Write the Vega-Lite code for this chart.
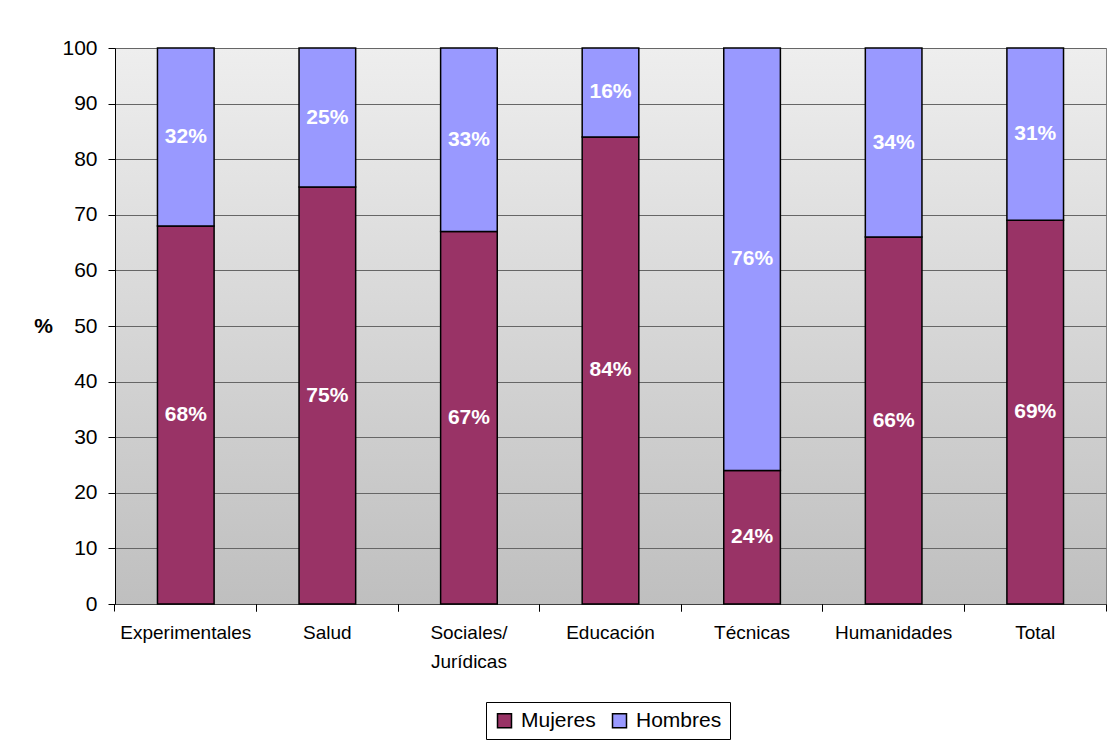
{
  "$schema": "https://vega.github.io/schema/vega-lite/v6.json",
  "autosize": {"type": "none"},
  "width": 991,
  "height": 556,
  "padding": {"left": 115, "top": 48, "right": 3, "bottom": 138},
  "background": "white",
  "data": {
    "values": [
      {"area": "Experimentales", "sexo": "Mujeres", "pct": 68},
      {"area": "Experimentales", "sexo": "Hombres", "pct": 32},
      {"area": "Salud", "sexo": "Mujeres", "pct": 75},
      {"area": "Salud", "sexo": "Hombres", "pct": 25},
      {"area": "Sociales/ Jurídicas", "sexo": "Mujeres", "pct": 67},
      {"area": "Sociales/ Jurídicas", "sexo": "Hombres", "pct": 33},
      {"area": "Educación", "sexo": "Mujeres", "pct": 84},
      {"area": "Educación", "sexo": "Hombres", "pct": 16},
      {"area": "Técnicas", "sexo": "Mujeres", "pct": 24},
      {"area": "Técnicas", "sexo": "Hombres", "pct": 76},
      {"area": "Humanidades", "sexo": "Mujeres", "pct": 66},
      {"area": "Humanidades", "sexo": "Hombres", "pct": 34},
      {"area": "Total", "sexo": "Mujeres", "pct": 69},
      {"area": "Total", "sexo": "Hombres", "pct": 31}
    ]
  },
  "transform": [
    {"stack": "pct", "groupby": ["area"], "sort": [{"field": "sexo", "order": "descending"}], "as": ["y0", "y1"]},
    {"calculate": "(datum.y0 + datum.y1) / 2", "as": "mid"},
    {"calculate": "datum.pct + '%'", "as": "etiqueta"}
  ],
  "layer": [
    {
      "mark": {"type": "bar", "width": {"band": 0.4}, "stroke": "black", "strokeWidth": 1.5},
      "encoding": {
        "x": {
          "field": "area", "type": "nominal", "sort": null, "title": null,
          "scale": {"paddingInner": 0, "paddingOuter": 0},
          "axis": {"orient": "bottom", "ticks": false, "tickSize": 0, "domain": true, "domainColor": "#404040", "domainWidth": 1, "labelPadding": 19, "labelExpr": "split(datum.label, ' ')", "labelLineHeight": 29}
        },
        "y": {"field": "y0", "type": "quantitative", "title": "%", "scale": {"domain": [0, 100], "nice": false}, "axis": {"values": [0,10,20,30,40,50,60,70,80,90,100]}},
        "y2": {"field": "y1"},
        "color": {
          "field": "sexo", "type": "nominal",
          "scale": {"domain": ["Mujeres", "Hombres"], "range": ["#993366", "#9999ff"]},
          "legend": {
            "title": null, "orient": "none", "legendX": 371, "legendY": 654, "direction": "horizontal",
            "strokeColor": "black", "fillColor": "white", "padding": 8,
            "symbolType": "square", "symbolSize": 196, "symbolStrokeColor": "black", "symbolStrokeWidth": 1.5,
            "labelFontSize": 21, "labelFont": "Liberation Sans", "labelColor": "black", "labelOffset": 6, "columnPadding": 13
          }
        }
      }
    },
    {
      "mark": {"type": "text", "color": "white", "fontWeight": "bold", "fontSize": 21, "font": "Liberation Sans", "align": "center", "baseline": "middle"},
      "encoding": {
        "x": {"field": "area", "type": "nominal", "sort": null, "title": null, "axis": {"orient": "bottom", "bandPosition": 0, "labels": false, "domain": false, "ticks": true, "tickSize": 7, "tickColor": "black"}},
        "y": {"field": "mid", "type": "quantitative", "title": "%"},
        "text": {"field": "etiqueta"}
      }
    },
    {
      "mark": {"type": "bar", "width": {"band": 0.4}, "opacity": 0},
      "encoding": {
        "x": {"field": "area", "type": "nominal", "sort": null, "title": null, "axis": {"orient": "bottom", "bandPosition": 1, "labels": false, "domain": false, "ticks": true, "tickSize": 7, "tickColor": "black"}},
        "y": {"field": "y0", "type": "quantitative", "title": "%"},
        "y2": {"field": "y1"}
      }
    }
  ],
  "resolve": {"axis": {"x": "independent"}},
  "config": {
    "font": "Liberation Sans",
    "view": {
      "stroke": "#808080",
      "strokeWidth": 1,
      "fill": {
        "gradient": "linear", "x1": 0, "y1": 0, "x2": 0, "y2": 1,
        "stops": [{"offset": 0, "color": "#eeeeee"}, {"offset": 1, "color": "#bfbfbf"}]
      }
    },
    "axisX": {"labelFontSize": 19, "labelColor": "black", "labelAngle": 0, "grid": false, "labelFont": "Liberation Sans"},
    "axisY": {
      "labelFontSize": 21, "labelColor": "black", "labelFont": "Liberation Sans", "labelPadding": 11,
      "tickSize": 7, "tickColor": "black", "domainColor": "black", "domainWidth": 1,
      "grid": true, "gridColor": "#666666", "gridWidth": 1, "gridOpacity": 1,
      "titleAngle": 0, "titleFontSize": 21, "titleFontWeight": "bold", "titleColor": "black",
      "titleX": -72, "titleY": 278, "titleAlign": "center", "titleBaseline": "middle", "titleFont": "Liberation Sans"
    }
  }
}
